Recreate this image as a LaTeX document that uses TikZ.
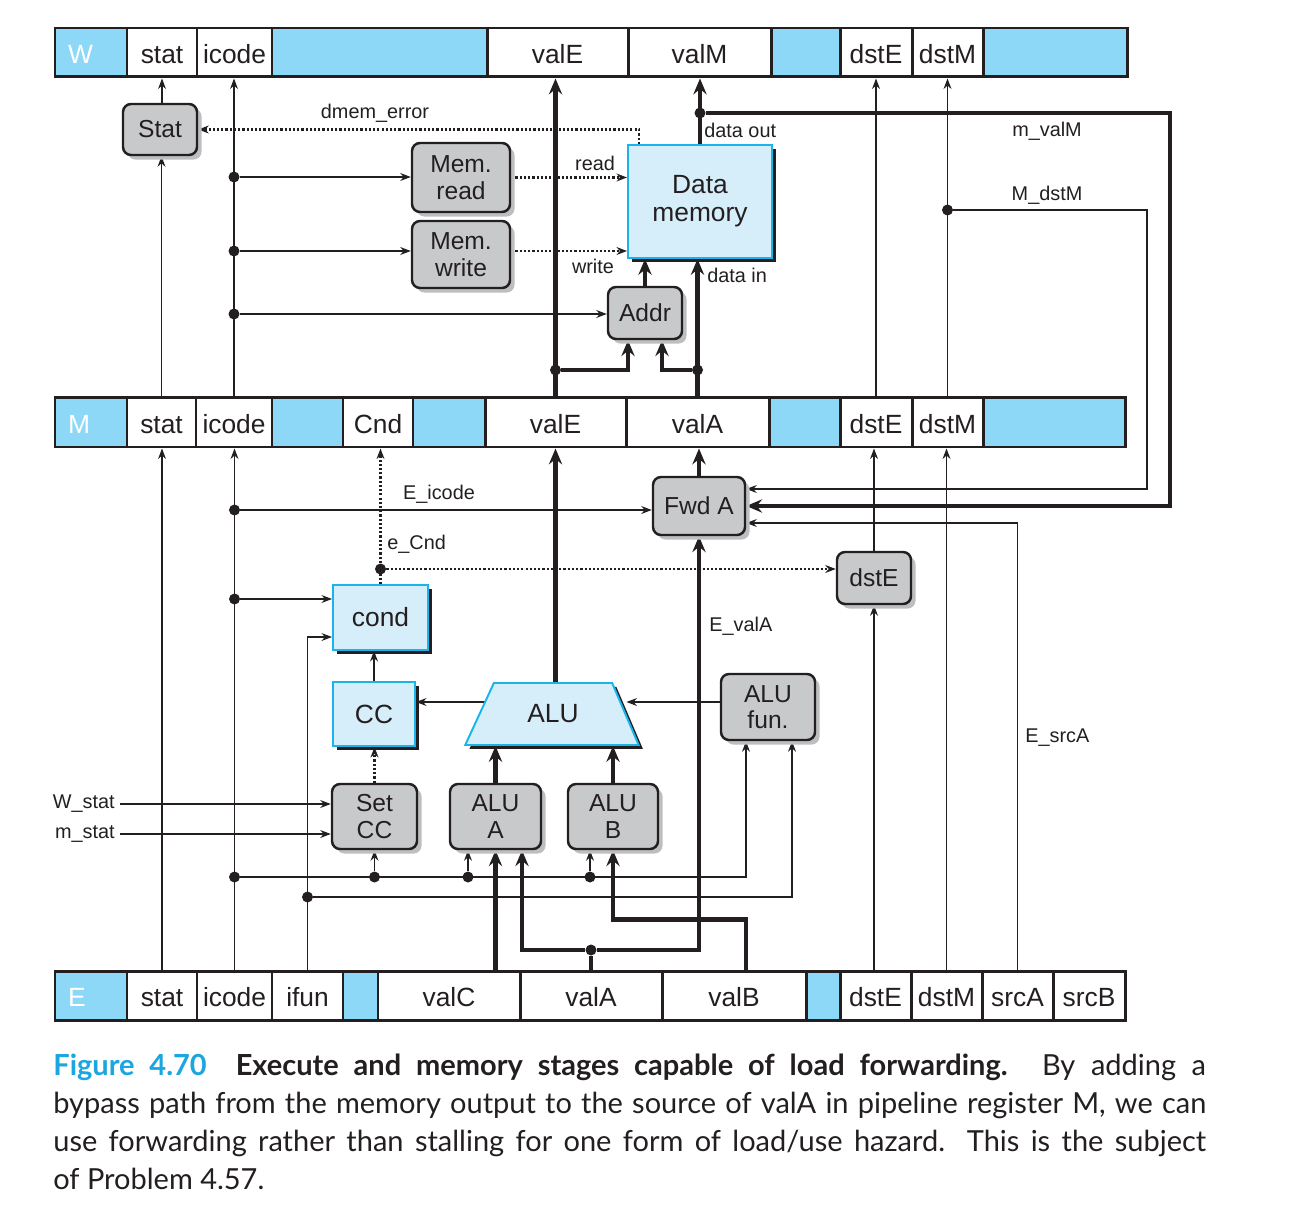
\documentclass[tikz,border=0pt]{standalone}
\usepackage{fontspec}
\setmainfont{Liberation Sans}
\newfontfamily\capfont{Lato}
\usetikzlibrary{arrows.meta,shapes.geometric,shadows,backgrounds,calc}
\definecolor{ink}{HTML}{231F20}
\definecolor{regblue}{HTML}{8DD8F7}
\definecolor{boxblue}{HTML}{D6EEFA}
\definecolor{edgeblue}{HTML}{1AB4EA}
\definecolor{boxgray}{HTML}{C8C9CB}
\definecolor{shadegray}{HTML}{BCBEC0}
\definecolor{figblue}{HTML}{1BA6E0}
\tikzset{boxw/.style={minimum width=#1*0.02cm}, boxh/.style={minimum height=#1*0.02cm}}

\begin{document}
\begin{tikzpicture}[x=0.02cm, y=-0.02cm]
  \useasboundingbox (0,0) rectangle (1294,1206);
  \tikzstyle{every node} = [text=ink]
  \tikzstyle{regcell} = [draw=ink, line width=1.7pt, fill=white, inner sep=0pt, text height=0.44cm, text depth=0pt, font=\fontsize{15}{16}\selectfont]
  \tikzstyle{regblank} = [regcell, fill=regblue]
  \tikzstyle{regtag} = [regblank, text=white, text width=0.92cm, align=left]
  \tikzstyle{gbox} = [draw=ink, line width=1.4pt, fill=boxgray, rounded corners=0.16cm, inner sep=0pt, align=center, font=\fontsize{14}{15}\selectfont, general shadow={fill=shadegray, shadow xshift=2.6pt, shadow yshift=-2.6pt}]
  \tikzstyle{bbox} = [draw=edgeblue, line width=1.1pt, fill=boxblue, inner sep=0pt, align=center, font=\fontsize{15}{16}\selectfont, general shadow={fill=ink, shadow xshift=2.2pt, shadow yshift=-2.2pt}]
  \tikzstyle{alu} = [trapezium, trapezium left angle=56, trapezium right angle=58, trapezium stretches=true, minimum width=3.48cm, minimum height=1.24cm, inner sep=0pt, draw=edgeblue, line width=1.1pt, fill=boxblue, font=\fontsize{15}{16}\selectfont, general shadow={fill=ink, shadow xshift=2.4pt, shadow yshift=-2.2pt}]
  \tikzstyle{junction} = [circle, fill=ink, inner sep=0pt, minimum size=0.22cm]
  \tikzstyle{lbl} = [font=\fontsize{11.3}{13}\selectfont, inner sep=0pt]
  \tikzstyle{wire} = [draw=ink, line width=0.7pt, -{Stealth[length=6pt,width=4.5pt,inset=2pt]}]
  \tikzstyle{ctrl} = [wire, line width=1.25pt, dash pattern=on 1.25pt off 1.15pt]
  \tikzstyle{bus} = [draw=ink, line width=2.5pt, -{Stealth[length=9pt,width=7.5pt,inset=3pt]}]

  % pipeline registers
  \foreach \a/\b/\t/\s/\n in {55/127/W/regtag/W0, 127/197/stat/regcell/Wstat,
      197/272/icode/regcell/Wicode, 272/487//regblank/W3, 487/628/valE/regcell/WvalE,
      628/771/valM/regcell/WvalM, 771/840//regblank/W6, 840/912/dstE/regcell/WdstE,
      912/983/dstM/regcell/WdstM, 983/1127//regblank/W9}
    \node[\s, minimum width={(\b-\a)*0.02cm}, minimum height=0.98cm] (\n) at ({(\a+\b)/2},52.5) {\t};
  \foreach \a/\b/\t/\s/\n in {55/127/M/regtag/M0, 127/196/stat/regcell/Mstat,
      196/272/icode/regcell/Micode, 272/343//regblank/M3, 343/413/Cnd/regcell/MCnd,
      413/485//regblank/M5, 485/626/valE/regcell/MvalE, 626/769/valA/regcell/MvalA,
      769/840//regblank/M8, 840/912/dstE/regcell/MdstE, 912/983/dstM/regcell/MdstM,
      983/1125//regblank/M11}
    \node[\s, minimum width={(\b-\a)*0.02cm}, minimum height=1cm] (\n) at ({(\a+\b)/2},422) {\t};
  \foreach \a/\b/\t/\s/\n in {55/127/E/regtag/E0, 127/197/stat/regcell/Estat,
      197/272/icode/regcell/Eicode, 272/343/ifun/regcell/Eifun, 343/378//regblank/E4,
      378/520/valC/regcell/EvalC, 520/662/valA/regcell/EvalA, 662/806/valB/regcell/EvalB,
      806/840//regblank/E8, 840/911/dstE/regcell/EdstE, 911/982/dstM/regcell/EdstM,
      982/1053/srcA/regcell/EsrcA, 1053/1125/srcB/regcell/EsrcB}
    \node[\s, minimum width={(\b-\a)*0.02cm}, minimum height=0.98cm] (\n) at ({(\a+\b)/2},995.5) {\t};

  % logic blocks
  \node[gbox, boxw=74, boxh=51] (Stat) at (160,129.5) {Stat};
  \node[gbox, boxw=98, boxh=69] (Memread) at (461,177.5) {Mem.\\read};
  \node[gbox, boxw=98, boxh=67] (Memwrite) at (461,254.5) {Mem.\\write};
  \node[gbox, boxw=74, boxh=52] (Addr) at (645,313) {Addr};
  \node[bbox, boxw=144, boxh=113] (DataMem) at (700,201.5) {Data\\memory};
  \node[gbox, boxw=92, boxh=58] (FwdA) at (699,506) {Fwd A};
  \node[gbox, boxw=74, boxh=52] (dstEbox) at (874,578) {dstE};
  \node[bbox, boxw=95, boxh=65] (cond) at (380.5,617.5) {cond};
  \node[bbox, boxw=82, boxh=64] (CC) at (374,714) {CC};
  \node[alu] (ALU) at (553,714) {ALU};
  \node[gbox, boxw=94, boxh=66] (ALUfun) at (768,707) {ALU\\fun.};
  \node[gbox, boxw=85, boxh=65] (SetCC) at (374.5,816.5) {Set\\CC};
  \node[gbox, boxw=91, boxh=65] (ALUA) at (495.5,816.5) {ALU\\A};
  \node[gbox, boxw=90, boxh=65] (ALUB) at (613,816.5) {ALU\\B};

  % junctions
  \node[junction] (i1) at (Micode.north |- 0,177) {};
  \node[junction] (i2) at (Micode.north |- 0,251) {};
  \node[junction] (i3) at (Micode.north |- 0,314) {};
  \node[junction] (v1) at (MvalE.north |- 0,370) {};
  \node[junction] (v2) at (MvalA.north |- 0,370) {};
  \node[junction] (v3) at (DataMem.north |- 0,113) {};
  \node[junction] (v4) at (MdstM.north |- 0,210) {};
  \node[junction] (e1) at (Eicode.north |- 0,510) {};
  \node[junction] (e2) at (Eicode.north |- 0,599) {};
  \node[junction] (e3) at (Eicode.north |- 0,877) {};
  \node[junction] (e4) at (SetCC.south |- 0,877) {};
  \node[junction] (e5) at (468,877) {};
  \node[junction] (e6) at (590,877) {};
  \node[junction] (e7) at (Eifun.north |- 0,897) {};
  \node[junction] (e8) at (cond.north |- 0,569) {};
  \node[junction] (e9) at (EvalA.north |- 0,950) {};
  \coordinate (c1) at (1170,300);
  \coordinate (c2) at (1147,300);

  % signal names
  \node[lbl] (dmem) at (375,113) {dmem\_error};
  \node[lbl] (rd) at (595,163) {read};
  \node[lbl] (wr) at (593,266) {write};
  \node[lbl, anchor=west] (dout) at (704,130) {data out};
  \node[lbl, anchor=west] (din) at (707,275) {data in};
  \node[lbl] (mvalM) at (1047,131) {m\_valM};
  \node[lbl] (MdstMl) at (1047,195) {M\_dstM};
  \node[lbl] (Eicl) at (439,494) {E\_icode};
  \node[lbl, anchor=west] (eCnd) at (387,544) {e\_Cnd};
  \node[lbl, anchor=west] (EvalAl) at (709,626) {E\_valA};
  \node[lbl, anchor=west] (EsrcAl) at (1025,738) {E\_srcA};
  \node[lbl, anchor=east] (Wst) at (115,804) {W\_stat};
  \node[lbl, anchor=east] (mst) at (115,834) {m\_stat};

  \begin{scope}[on background layer]
    % memory stage
    \draw[wire] (Stat.north -| Wstat.south) -- (Wstat.south);
    \draw[wire] (Mstat.north) -- (Mstat.north |- Stat.south);
    \draw[wire] (Micode.north) -- (Micode.north |- Wicode.south);
    \draw[wire] (i1) -- (i1 -| Memread.west);
    \draw[wire] (i2) -- (i2 -| Memwrite.west);
    \draw[wire] (i3) -- (i3 -| Addr.west);
    \draw[ctrl] ($(DataMem.north west)+(12,0)$) |- (Stat.east);
    \draw[ctrl] (Memread.east) -- (Memread.east -| DataMem.west);
    \draw[ctrl] (Memwrite.east |- i2) -- (i2 -| DataMem.west);
    \draw[bus] (Addr.north) -- (Addr.north |- DataMem.south);
    \draw[bus] (MvalE.north) -- (MvalE.north |- WvalE.south);
    \draw[bus] (v1) -| ($(Addr.south)+(-17,0)$);
    \draw[bus] (MvalA.north) -- (MvalA.north |- DataMem.south);
    \draw[bus] (v2) -| ($(Addr.south)+(17,0)$);
    \draw[bus] (DataMem.north) -- (DataMem.north |- WvalM.south);
    \draw[bus] (v3) -| (c1) |- (FwdA.east);
    \draw[wire] (MdstE.north) -- (MdstE.north |- WdstE.south);
    \draw[wire] (MdstM.north) -- (MdstM.north |- WdstM.south);
    \draw[wire] (v4) -| (c2) |- ($(FwdA.east)+(0,-17)$);
    % execute stage
    \draw[wire] (Estat.north) -- (Estat.north |- Mstat.south);
    \draw[wire] (Eicode.north) -- (Eicode.north |- Micode.south);
    \draw[wire] (e1) -- (e1 -| FwdA.west);
    \draw[wire] (e2) -- (e2 -| cond.west);
    \draw[wire] (e3) -| ($(ALUfun.south)+(-22,0)$);
    \draw[wire] (e4) -- (SetCC.south);
    \draw[wire] (e5) -- (e5 |- ALUA.south);
    \draw[wire] (e6) -- (e6 |- ALUB.south);
    \draw[wire] (Eifun.north) |- ($(cond.west)+(0,19.5)$);
    \draw[wire] (e7) -| ($(ALUfun.south)+(24,0)$);
    \draw[ctrl] (cond.north) -- (cond.north |- MCnd.south);
    \draw[ctrl] (e8) -- (e8 -| dstEbox.west);
    \draw[wire] (CC.north) -- (CC.north |- cond.south);
    \draw[wire] (ALU.center |- 0,702) -- (CC.east |- 0,702);
    \draw[wire] (ALUfun.west |- 0,702) -- (ALU.east |- 0,702);
    \draw[ctrl] (SetCC.north) -- (SetCC.north |- CC.south);
    \draw[wire, shorten <=0.1cm] (Wst.east) -- (Wst.east -| SetCC.west);
    \draw[wire, shorten <=0.1cm] (mst.east) -- (mst.east -| SetCC.west);
    \draw[bus] (ALU.north -| MvalE.south) -- (MvalE.south);
    \draw[bus] (ALUA.north) -- (ALUA.north |- ALU.south);
    \draw[bus] (ALUB.north) -- (ALUB.north |- ALU.south);
    \draw[bus] (ALUA.south |- EvalC.north) -- (ALUA.south);
    \draw[bus, -] (EvalA.north) -- (e9);
    \draw[bus] (e9) -| ($(ALUA.south)+(26.5,0)$);
    \draw[bus] (e9) -| (FwdA.south);
    \draw[bus] ($(EvalB.north)+(12,0)$) -- ++(0,-50) -| (ALUB.south);
    \draw[bus] (FwdA.north) -- (FwdA.north |- MvalA.south);
    \draw[wire] (dstEbox.south |- EdstE.north) -- (dstEbox.south);
    \draw[wire] (dstEbox.north) -- (dstEbox.north |- MdstE.south);
    \draw[wire] (EdstM.north) -- (EdstM.north |- MdstM.south);
    \draw[wire] (EsrcA.north) |- ($(FwdA.east)+(0,17)$);
  \end{scope}

  \node[anchor=north west, text width=23.06cm, align=justify, inner sep=0pt,
    font=\capfont\fontsize{16.5}{21.6}\selectfont] (caption) at (53,1054)
    {\hyphenpenalty=10000{\color{figblue}\bfseries Figure 4.70}\hspace{1em}\textbf{Execute and memory stages capable of load forwarding.} By adding a\linebreak
     bypass path from the memory output to the source of valA in pipeline register M, we can\linebreak
     use forwarding rather than stalling for one form of load/use hazard. This is the subject\linebreak
     of Problem 4.57.};
\end{tikzpicture}
\end{document}
